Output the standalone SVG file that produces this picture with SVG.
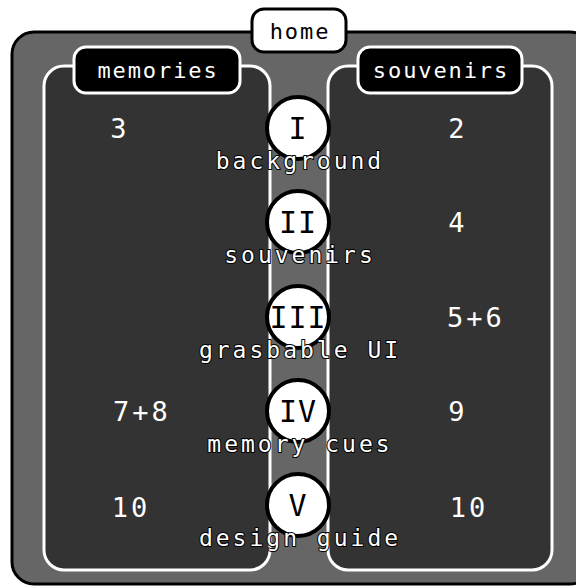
<svg xmlns="http://www.w3.org/2000/svg" width="576" height="588" viewBox="0 0 576 588">
<style>
.t{font-family:"DejaVu Sans Mono","Liberation Mono",monospace;text-anchor:middle}
.lbl{font-size:23px;letter-spacing:3px;fill:#fff;stroke:#000;stroke-width:2;paint-order:stroke;stroke-linejoin:round}
.tab{font-size:22px;letter-spacing:1.9px;fill:#fff}
.num{font-size:27px;letter-spacing:3px;fill:#fff}
.rom{font-size:30px;fill:#000;letter-spacing:1px}
.panel{fill:#333;stroke:#fff;stroke-width:3}
.circ{fill:#fff;stroke:#000;stroke-width:4}
</style>
<rect width="576" height="588" fill="#fff"/>
<g id="home-frame">
<rect x="12" y="32" width="580" height="552" rx="22" fill="#666" stroke="#000" stroke-width="3"/>
</g>
<g id="memories">
<rect class="panel" x="44" y="66" width="226" height="504" rx="20"/>
<rect x="74" y="47" width="166" height="46" rx="12" fill="#000" stroke="#fff" stroke-width="3"/>
<text class="t tab" x="158" y="78">memories</text>
<text class="t num" x="120" y="138">3</text>
<text class="t num" x="142" y="421">7+8</text>
<text class="t num" x="131" y="517">10</text>
</g>
<g id="souvenirs">
<rect class="panel" x="328" y="66" width="224" height="504" rx="20"/>
<rect x="358" y="47" width="164" height="46" rx="12" fill="#000" stroke="#fff" stroke-width="3"/>
<text class="t tab" x="441" y="78">souvenirs</text>
<text class="t num" x="458" y="138">2</text>
<text class="t num" x="458" y="232">4</text>
<text class="t num" x="476" y="327">5+6</text>
<text class="t num" x="458" y="421">9</text>
<text class="t num" x="469" y="517">10</text>
</g>
<g id="home">
<rect x="252" y="9" width="94" height="43" rx="12" fill="#fff" stroke="#000" stroke-width="3"/>
<text class="t tab" x="300" y="39" style="fill:#000">home</text>
</g>
<g id="connectors"></g>
<g id="node-I">
<circle class="circ" cx="298" cy="128" r="31"/>
<text class="t rom" x="298" y="139">I</text>
<text class="t lbl" x="300" y="169">background</text>
</g>
<g id="node-II">
<circle class="circ" cx="298" cy="222" r="31"/>
<text class="t rom" x="298" y="233">II</text>
<text class="t lbl" x="300" y="263">souvenirs</text>
</g>
<g id="node-III">
<circle class="circ" cx="298" cy="317" r="31"/>
<text class="t rom" x="298" y="328">III</text>
<text class="t lbl" x="300" y="358">grasbable UI</text>
</g>
<g id="node-IV">
<circle class="circ" cx="298" cy="411" r="31"/>
<text class="t rom" x="298" y="422">IV</text>
<text class="t lbl" x="300" y="452">memory cues</text>
</g>
<g id="node-V">
<circle class="circ" cx="298" cy="505" r="31"/>
<text class="t rom" x="298" y="516">V</text>
<text class="t lbl" x="300" y="546">design guide</text>
</g>
</svg>
